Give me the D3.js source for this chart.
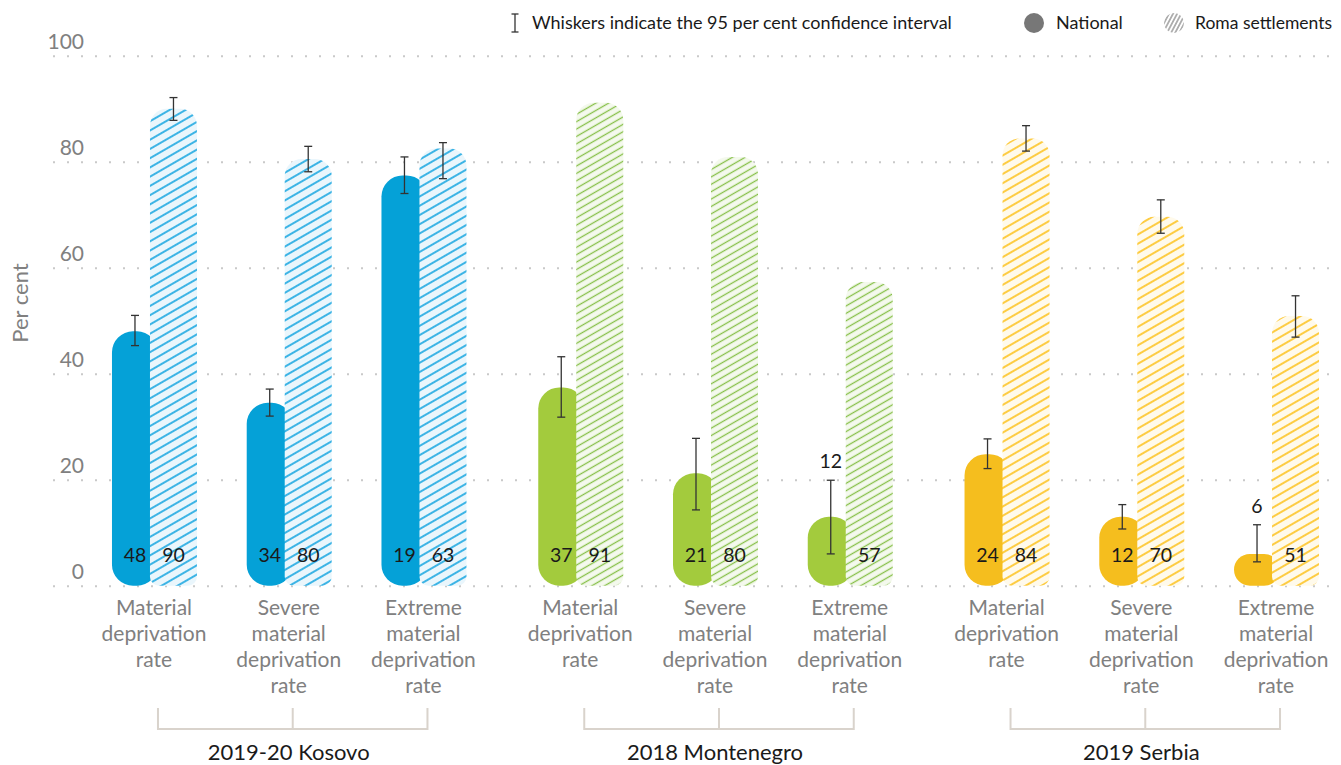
<!DOCTYPE html>
<html>
<head>
<meta charset="utf-8">
<script src="https://cdn.jsdelivr.net/npm/d3@7"></script>
<style>
  body { margin: 0; background: #fff; }
  svg { display: block; font-family: Lato, "Open Sans", sans-serif; }
</style>
</head>
<body>
<script>
// data
var groups = ["2019-20 Kosovo", "2018 Montenegro", "2019 Serbia"];
var categories = ["Material deprivation rate", "Severe material deprivation rate", "Extreme material deprivation rate"];
var categoryLines = [["Material", "deprivation", "rate"], ["Severe", "material", "deprivation", "rate"], ["Extreme", "material", "deprivation", "rate"]];

// bar heights as drawn (Kosovo extreme bars are drawn higher than their labels)
var nationalValues = [[48, 34.5, 77.4], [37.4, 21.2, 13], [24.8, 13, 6]];
var romaValues = [[90, 80.5, 82.5], [91.1, 80.9, 57.3], [84.4, 69.6, 50.9]];
var nationalLabels = [[48, 34, 19], [37, 21, 12], [24, 12, 6]];
var romaLabels = [[90, 80, 63], [91, 80, 57], [84, 70, 51]];

// 95% confidence intervals [low, high]
var nationalCI = [[[45.3, 51.0], [32.0, 37.1], [74.0, 80.9]],
                  [[31.8, 43.2], [14.3, 27.8], [6.0, 19.9]],
                  [[22.1, 27.7], [10.7, 15.3], [4.5, 11.5]]];
var romaCI = [[[87.8, 92.1], [78.1, 82.9], [76.8, 83.6]],
              [null, null, null],
              [[82.0, 86.8], [66.5, 72.8], [46.9, 54.7]]];

var yTicks = [0, 20, 40, 60, 80, 100];

var solidColors = ["#05a1d7", "#a3cb3d", "#f5be1e"];
var hatchColors = ["#1ea8e1", "#86bf48", "#fdc424"];
var tintColors = ["#eaf6fc", "#f4f9ed", "#fffaeb"];
var hatchGaps = [8, 6.4, 8];

var width = 1341,
    height = 765;

var svg = d3.select("body").append("svg")
    .attr("width", width)
    .attr("height", height);

var defs = svg.append("defs");

groups.forEach(function(g, i) {
  var p = defs.append("pattern")
      .attr("id", "hatch" + i)
      .attr("patternUnits", "userSpaceOnUse")
      .attr("width", 20)
      .attr("height", hatchGaps[i])
      .attr("patternTransform", "rotate(-30)");
  p.append("rect")
      .attr("width", 20)
      .attr("height", hatchGaps[i])
      .attr("fill", tintColors[i]);
  p.append("line")
      .attr("x1", 0).attr("x2", 20)
      .attr("y1", hatchGaps[i] / 2).attr("y2", hatchGaps[i] / 2)
      .attr("stroke", hatchColors[i])
      .attr("stroke-width", i === 1 ? 1.3 : 1.7);
});

var legendHatch = defs.append("pattern")
    .attr("id", "hatchLegend")
    .attr("patternUnits", "userSpaceOnUse")
    .attr("width", 10)
    .attr("height", 3.6)
    .attr("patternTransform", "rotate(-62)");
legendHatch.append("line")
    .attr("x1", 0).attr("x2", 10)
    .attr("y1", 1.8).attr("y2", 1.8)
    .attr("stroke", "#777")
    .attr("stroke-width", 1.1);

defs.append("clipPath").attr("id", "legendClip")
  .append("circle")
    .attr("cx", 1174).attr("cy", 23).attr("r", 10);

var y = d3.scaleLinear()
    .domain([0, 100])
    .range([585.7, 55.7]);

var x0 = d3.scaleBand()
    .domain(groups)
    .range([86.6, 1343.4])
    .paddingInner(0.0517);

var x1 = d3.scaleBand()
    .domain(categories)
    .range([0, x0.bandwidth()]);

function center(g, c) {
  return x0(groups[g]) + x1(categories[c]) + x1.bandwidth() / 2;
}

// dotted gridlines + tick labels
var axis = svg.append("g")
    .attr("transform", "translate(53,0)")
    .call(d3.axisLeft(y).tickValues(yTicks).tickSize(-(width - 53)));

axis.select(".domain").remove();
axis.selectAll(".tick line")
    .attr("stroke", "#c9c9c9")
    .attr("stroke-width", 2)
    .attr("stroke-dasharray", "2,12");
axis.selectAll(".tick text")
    .attr("x", 31)
    .attr("dy", -7.7)
    .attr("text-anchor", "end")
    .attr("fill", "#808080")
    .style("font-size", "21px")
    .style("font-family", "Lato, sans-serif");

svg.append("text")
    .attr("transform", "translate(28,303) rotate(-90)")
    .attr("text-anchor", "middle")
    .attr("fill", "#808080")
    .style("font-size", "22px")
    .text("Per cent");

function roundedBar(x, yTop, w, h, rTop, rBot) {
  rTop = Math.min(rTop, w / 2, h / 2);
  rBot = Math.min(rBot, w / 2, h / 2);
  return "M" + x + "," + (yTop + rTop) +
    " A" + rTop + "," + rTop + " 0 0 1 " + (x + rTop) + "," + yTop +
    " H" + (x + w - rTop) +
    " A" + rTop + "," + rTop + " 0 0 1 " + (x + w) + "," + (yTop + rTop) +
    " V" + (yTop + h - rBot) +
    " A" + rBot + "," + rBot + " 0 0 1 " + (x + w - rBot) + "," + (yTop + h) +
    " H" + (x + rBot) +
    " A" + rBot + "," + rBot + " 0 0 1 " + x + "," + (yTop + h - rBot) + " Z";
}

var bars = [];
groups.forEach(function(g, gi) {
  categories.forEach(function(c, ci) {
    bars.push({ g: gi, c: ci, cx: center(gi, ci) });
  });
});

// national (solid) bars
svg.append("g").selectAll("path")
    .data(bars)
  .enter().append("path")
    .attr("d", function(d) {
      var v = nationalValues[d.g][d.c];
      return roundedBar(d.cx - 42, y(v), 46, y(0) - y(v), 21, 21);
    })
    .attr("fill", function(d) { return solidColors[d.g]; });

// Roma settlements (hatched) bars
svg.append("g").selectAll("path")
    .data(bars)
  .enter().append("path")
    .attr("d", function(d) {
      var v = romaValues[d.g][d.c];
      return roundedBar(d.cx - 4, y(v), 47, y(0) - y(v), 17, 9);
    })
    .attr("fill", function(d) { return "url(#hatch" + d.g + ")"; });

// whiskers
function whisker(sel, xpos, ci) {
  if (!ci) return;
  var gw = sel.append("g")
      .attr("stroke", "#333")
      .attr("stroke-width", 1.3);
  gw.append("line").attr("x1", xpos).attr("x2", xpos).attr("y1", y(ci[0])).attr("y2", y(ci[1]));
  gw.append("line").attr("x1", xpos - 4).attr("x2", xpos + 4).attr("y1", y(ci[0])).attr("y2", y(ci[0]));
  gw.append("line").attr("x1", xpos - 4).attr("x2", xpos + 4).attr("y1", y(ci[1])).attr("y2", y(ci[1]));
}

var wg = svg.append("g");
bars.forEach(function(d) {
  whisker(wg, d.cx - 19, nationalCI[d.g][d.c]);
  whisker(wg, d.cx + 19.5, romaCI[d.g][d.c]);
});

// value labels
var lg = svg.append("g")
    .attr("fill", "#1a1a1a")
    .attr("text-anchor", "middle")
    .style("font-size", "19.5px");

bars.forEach(function(d) {
  var ci = nationalCI[d.g][d.c];
  var ny = ci[0] < 8 ? y(ci[1]) - 12 : 562;
  lg.append("text")
      .attr("x", d.cx - 19)
      .attr("y", ny)
      .text(nationalLabels[d.g][d.c]);
  lg.append("text")
      .attr("x", d.cx + 19.5)
      .attr("y", 562)
      .text(romaLabels[d.g][d.c]);
});

// category labels
var cg = svg.append("g")
    .attr("fill", "#808080")
    .attr("text-anchor", "middle")
    .style("font-size", "21px");

bars.forEach(function(d) {
  categoryLines[d.c].forEach(function(line, li) {
    cg.append("text")
        .attr("x", d.cx)
        .attr("y", 615 + li * 26)
        .text(line);
  });
});

// group brackets and labels
groups.forEach(function(g, gi) {
  var first = center(gi, 0) + 4,
      mid = center(gi, 1) + 4,
      last = center(gi, 2) + 4;
  var br = svg.append("g")
      .attr("stroke", "#d9d3cc")
      .attr("stroke-width", 2)
      .attr("fill", "none");
  br.append("path")
      .attr("d", "M" + first + ",708 V729 H" + last + " V708");
  br.append("line")
      .attr("x1", mid).attr("x2", mid)
      .attr("y1", 708).attr("y2", 729);

  svg.append("text")
      .attr("x", center(gi, 1))
      .attr("y", 760)
      .attr("text-anchor", "middle")
      .attr("fill", "#1a1a1a")
      .style("font-size", "22px")
      .text(g);
});

// legend
var legend = svg.append("g")
    .style("font-size", "18px")
    .attr("fill", "#1a1a1a");

var lw = legend.append("g").attr("stroke", "#333").attr("stroke-width", 1.3);
lw.append("line").attr("x1", 515).attr("x2", 515).attr("y1", 14).attr("y2", 32);
lw.append("line").attr("x1", 511.5).attr("x2", 518.5).attr("y1", 14).attr("y2", 14);
lw.append("line").attr("x1", 511.5).attr("x2", 518.5).attr("y1", 32).attr("y2", 32);

legend.append("text")
    .attr("x", 532).attr("y", 29)
    .text("Whiskers indicate the 95 per cent confidence interval");

legend.append("circle")
    .attr("cx", 1034).attr("cy", 23).attr("r", 10)
    .attr("fill", "#777");

legend.append("text")
    .attr("x", 1056).attr("y", 29)
    .text("National");

legend.append("rect")
    .attr("x", 1162).attr("y", 11).attr("width", 24).attr("height", 24)
    .attr("fill", "url(#hatchLegend)")
    .attr("clip-path", "url(#legendClip)");

legend.append("text")
    .attr("x", 1195).attr("y", 29)
    .style("font-size", "17.5px")
    .text("Roma settlements");
</script>
</body>
</html>
